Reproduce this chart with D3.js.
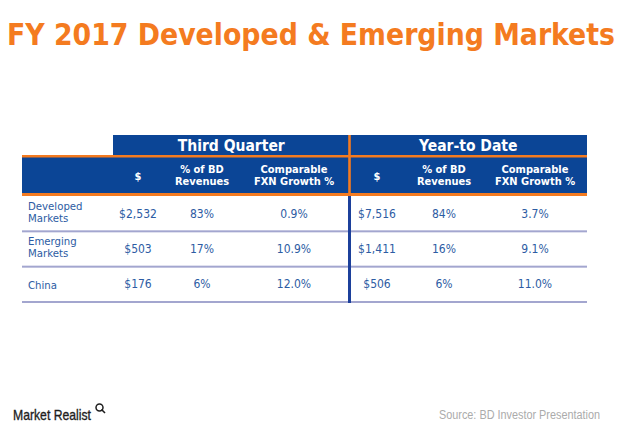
<!DOCTYPE html>
<html><head><meta charset="utf-8">
<script src="https://cdn.jsdelivr.net/npm/d3@7"></script>
<style>
html,body{margin:0;padding:0;background:#fff;}
svg{display:block;}
.cond{font-family:"DejaVu Sans Condensed","DejaVu Sans",sans-serif;font-stretch:condensed;}
.narrow{font-family:"Liberation Sans Narrow","Arial Narrow","Liberation Sans",sans-serif;font-stretch:condensed;}
</style></head>
<body>
<svg id="c" width="620" height="443"></svg>
<script>
// ---- data ----
const title = "FY 2017 Developed & Emerging Markets";
const groups = ["Third Quarter", "Year-to Date"];
const colHeaders = [["$"], ["% of BD", "Revenues"], ["Comparable", "FXN Growth %"]];
const rowLabels = [["Developed", "Markets"], ["Emerging", "Markets"], ["China"]];
const rowKeys = ["Developed Markets", "Emerging Markets", "China"];
const tqDollars = ["$2,532", "$503", "$176"];
const tqShare = ["83%", "17%", "6%"];
const tqGrowth = ["0.9%", "10.9%", "12.0%"];
const ytdDollars = ["$7,516", "$1,411", "$506"];
const ytdShare = ["84%", "16%", "6%"];
const ytdGrowth = ["3.7%", "9.1%", "11.0%"];
const source = "Source: BD Investor Presentation";
const brand = "Market Realist";

// ---- styles ----
const BLUE = "#0B4596", ORANGE = "#F47B20", TXT = "#2D5CA3", SEP = "#A3A6CF", DIV = "#1C409B";
const svg = d3.select("#c");

// title
svg.append("text").attr("class","cond").attr("x",7).attr("y",45)
  .attr("font-size",30).attr("font-weight","bold").attr("fill",ORANGE)
  .attr("textLength",608).attr("lengthAdjust","spacingAndGlyphs").text(title);

// scales
const L = 22, R = 587, MID = 349.5;
const groupX = d3.scaleOrdinal().domain(groups).range([[113, MID], [MID, R]]);
const colKeys = ["tq$","tq%","tqg","ytd$","ytd%","ytdg"];
const colX = d3.scaleOrdinal().domain(colKeys).range([138, 202, 294, 377, 444, 535]);
const y = d3.scaleBand().domain(rowKeys).range([196, 302]).padding(0);

function multiline(sel, lines, x, y0, dy) {
  lines.forEach((t, j) => {
    sel.append("tspan").attr("x", x).attr("y", y0 + j*dy).text(t);
  });
}

// header row 1
groups.forEach(g => {
  const [x0, x1] = groupX(g);
  svg.append("rect").attr("x",x0).attr("y",135).attr("width",x1-x0).attr("height",22).attr("fill",BLUE);
  svg.append("text").attr("class","cond").attr("x",(x0+x1)/2).attr("y",151)
    .attr("text-anchor","middle").attr("font-size",15.5).attr("font-weight","bold")
    .attr("fill","#fff").text(g);
});
// header row 2
svg.append("rect").attr("x",L).attr("y",156).attr("width",R-L).attr("height",38).attr("fill",BLUE);
svg.append("rect").attr("x",L).attr("y",155).attr("width",R-L).attr("height",2.5).attr("fill",ORANGE);
svg.append("rect").attr("x",L).attr("y",193).attr("width",R-L).attr("height",3).attr("fill",ORANGE);
svg.append("rect").attr("x",MID-1.3).attr("y",135).attr("width",2.6).attr("height",58).attr("fill",ORANGE);

const hdrKeys = [["tq$","tq%","tqg"],["ytd$","ytd%","ytdg"]];
hdrKeys.forEach(keys => keys.forEach((k,i) => {
  const lines = colHeaders[i];
  const t = svg.append("text").attr("class","cond")
    .attr("text-anchor","middle").attr("font-size",11).attr("font-weight","bold")
    .attr("fill","#fff");
  multiline(t, lines, colX(k), lines.length === 1 ? 180 : 173.3, 11.9);
}));

// body rows
const cols = [["tq$",tqDollars],["tq%",tqShare],["tqg",tqGrowth],["ytd$",ytdDollars],["ytd%",ytdShare],["ytdg",ytdGrowth]];
rowKeys.forEach((rk, r) => {
  const top = y(rk), bw = y.bandwidth();
  svg.append("rect").attr("x",L).attr("y",top+bw-1).attr("width",R-L).attr("height",2).attr("fill",SEP);
  const lab = rowLabels[r];
  const t = svg.append("text").attr("class","cond").attr("font-size",11.3).attr("fill",TXT);
  multiline(t, lab, 28, lab.length === 1 ? top + 22 : top + 14, 12);
  cols.forEach(([k, arr]) => {
    svg.append("text").attr("class","cond").attr("x",colX(k)).attr("y",top+21.5)
      .attr("text-anchor","middle").attr("font-size",12).attr("fill",TXT).text(arr[r]);
  });
});
// vertical divider in body
svg.append("rect").attr("x",MID-1.5).attr("y",196).attr("width",3).attr("height",107).attr("fill",DIV);

// footer
svg.append("text").attr("class","narrow").attr("x",13).attr("y",420)
  .attr("font-size",15).attr("fill","#1e1e1e").attr("stroke","#1e1e1e").attr("stroke-width",0.35)
  .attr("textLength",78).attr("lengthAdjust","spacingAndGlyphs").text(brand);
const mg = svg.append("g").attr("transform","translate(99.5,407.5)");
mg.append("circle").attr("r",3.5).attr("fill","none").attr("stroke","#1e1e1e").attr("stroke-width",1.5);
mg.append("line").attr("x1",2).attr("y1",2).attr("x2",5.5).attr("y2",5.5).attr("stroke","#1e1e1e").attr("stroke-width",1.6);
svg.append("text").attr("class","narrow").attr("x",439).attr("y",419)
  .attr("font-size",12.3).attr("fill","#ABABAB")
  .attr("textLength",161).attr("lengthAdjust","spacingAndGlyphs").text(source);
</script>
</body></html>
